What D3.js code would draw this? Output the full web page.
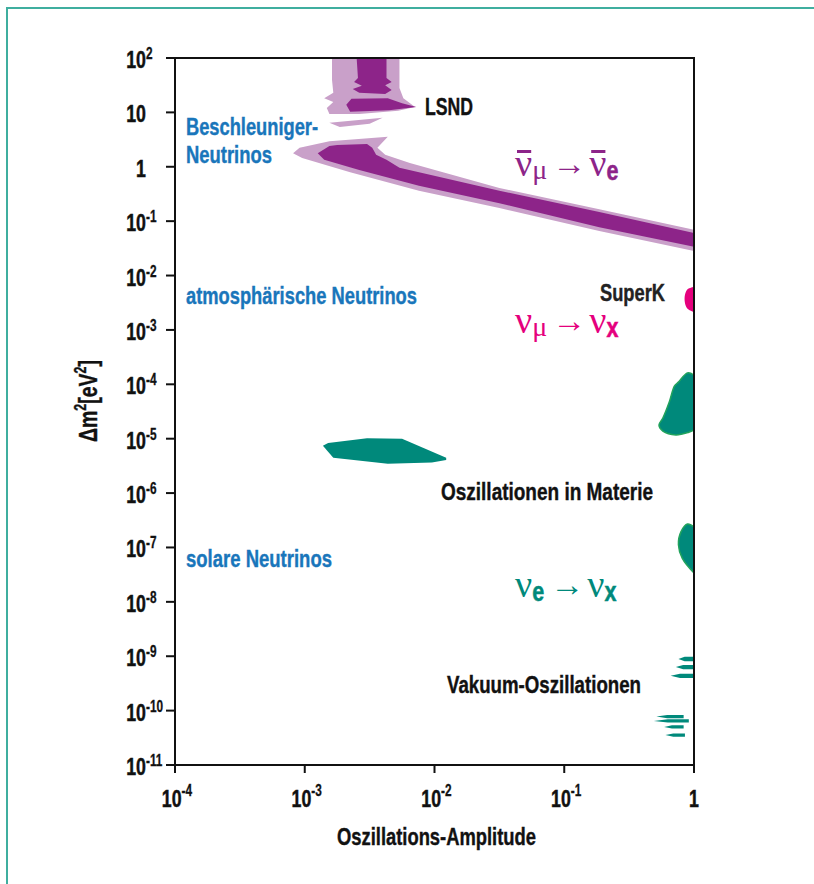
<!DOCTYPE html>
<html>
<head>
<meta charset="utf-8">
<script src="https://cdn.jsdelivr.net/npm/d3@7/dist/d3.min.js"></script>
<style>
body { margin: 0; background: #fff; }
svg text { font-family: 'Liberation Sans', Arial, sans-serif; font-weight: bold; }
</style>
</head>
<body>
<div id="chart"></div>
<script>
// axis ticks
var xTicks = [1e-4, 1e-3, 1e-2, 1e-1, 1];
var xTickLabels = [["10", "-4"], ["10", "-3"], ["10", "-2"], ["10", "-1"], ["1", ""]];
var yTicks = [1e2, 1e1, 1, 1e-1, 1e-2, 1e-3, 1e-4, 1e-5, 1e-6, 1e-7, 1e-8, 1e-9, 1e-10, 1e-11];
var yTickLabels = [["10", "2"], ["10", ""], ["1", ""], ["10", "-1"], ["10", "-2"], ["10", "-3"], ["10", "-4"],
	["10", "-5"], ["10", "-6"], ["10", "-7"], ["10", "-8"], ["10", "-9"], ["10", "-10"], ["10", "-11"]];

// regions, as [log10 amplitude, log10 dm2 / eV^2]
var lsndOuter = [[-2.79, 2], [-2.27, 2], [-2.27, 1.45], [-2.24, 1.26], [-2.15, 1.10], [-2.28, 1.03], [-2.58, 0.97],
	[-2.81, 0.97], [-2.83, 1.08], [-2.78, 1.19], [-2.85, 1.26], [-2.78, 1.36], [-2.79, 1.60]];
var lsndStrip = [[-2.81, 0.81], [-2.40, 0.90], [-2.50, 0.79], [-2.73, 0.73]];
var lsndInnerTop = [[-2.60, 2], [-2.37, 2], [-2.37, 1.63], [-2.33, 1.56], [-2.38, 1.50], [-2.33, 1.41], [-2.38, 1.34],
	[-2.58, 1.36], [-2.63, 1.43], [-2.56, 1.49], [-2.62, 1.56], [-2.59, 1.63]];
var lsndInnerBlob = [[-2.64, 1.25], [-2.36, 1.26], [-2.25, 1.17], [-2.14, 1.10], [-2.35, 1.04], [-2.65, 1.01], [-2.68, 1.14]];
var bandOuter = [[-3.09, 0.25], [-3.04, 0.35], [-2.81, 0.47], [-2.36, 0.55], [-2.44, 0.35], [-2.38, 0.22], [-2.19, 0.07],
	[-1.50, -0.39], [-0.73, -0.78], [0, -1.16], [0, -1.55], [-0.73, -1.18], [-1.50, -0.76], [-2.12, -0.44], [-2.65, -0.10], [-3.02, 0.16]];
var bandInner = [[-2.90, 0.25], [-2.81, 0.38], [-2.75, 0.40], [-2.52, 0.42], [-2.48, 0.35], [-2.45, 0.22], [-2.37, 0.13],
	[-2.27, -0.02], [-1.50, -0.44], [-0.73, -0.83], [0, -1.22], [0, -1.47], [-0.73, -1.11], [-1.50, -0.67], [-2.12, -0.35], [-2.58, -0.06], [-2.85, 0.13]];
var superK = [[0, -2.21], [-0.05, -2.25], [-0.07, -2.36], [-0.07, -2.50], [-0.05, -2.61], [0, -2.67]];
var solarLMA = [[0, -3.83], [-0.05, -3.79], [-0.12, -3.96], [-0.15, -4.03], [-0.19, -4.32], [-0.24, -4.62], [-0.27, -4.75],
	[-0.24, -4.86], [-0.14, -4.93], [-0.04, -4.88], [0, -4.84]];
var solarSMA = [[-2.86, -5.13], [-2.82, -5.08], [-2.52, -4.99], [-2.25, -5.00], [-1.91, -5.35], [-1.91, -5.39],
	[-2.02, -5.44], [-2.36, -5.46], [-2.78, -5.35]];
var solarLOW = [[0, -6.62], [-0.05, -6.57], [-0.10, -6.71], [-0.12, -6.95], [-0.09, -7.20], [0, -7.47]];
// vacuum stripes: [left, right, top, bottom]
var vacuumStripes = [[-0.12, 0, -9.01, -9.09], [-0.14, 0, -9.16, -9.24], [-0.18, 0, -9.32, -9.40],
	[-0.29, -0.08, -10.08, -10.14], [-0.31, -0.04, -10.16, -10.22], [-0.23, -0.08, -10.27, -10.33], [-0.22, -0.07, -10.42, -10.48]];

var purpleDark = "#8d2489", purpleLight = "#c9a0c9", magenta = "#e5007d", teal = "#00897b", tealEdge = "#21a35c", blue = "#1976bb";

var w = 814, h = 884;
var svg = d3.select("#chart").append("svg").attr("width", w).attr("height", h);

// frame of the page
svg.append("path").attr("d", "M7,884V8H814").attr("fill", "none").attr("stroke", "#3fae9f").attr("stroke-width", 2);

var x = d3.scaleLog().domain([1e-4, 1]).range([175, 694]);
var y = d3.scaleLog().domain([1e-11, 1e2]).range([765, 58]);

function px(d){ return x(Math.pow(10, d[0])); }
function py(d){ return y(Math.pow(10, d[1])); }
var line = d3.line().x(px).y(py).curve(d3.curveLinearClosed);
var smooth = d3.line().x(px).y(py).curve(d3.curveCatmullRom);

var plot = svg.append("g");
plot.append("path").attr("d", line(lsndOuter)).attr("fill", purpleLight);
plot.append("path").attr("d", line(lsndStrip)).attr("fill", purpleLight);
plot.append("path").attr("d", line(bandOuter)).attr("fill", purpleLight);
plot.append("path").attr("d", line(lsndInnerTop)).attr("fill", purpleDark);
plot.append("path").attr("d", line(lsndInnerBlob)).attr("fill", purpleDark);
plot.append("path").attr("d", line(bandInner)).attr("fill", purpleDark);
plot.append("path").attr("d", smooth(superK) + "Z").attr("fill", magenta);
plot.append("path").attr("d", smooth(solarLMA) + "Z").attr("fill", teal).attr("stroke", tealEdge).attr("stroke-width", 1.5);
plot.append("path").attr("d", line(solarSMA)).attr("fill", teal);
plot.append("path").attr("d", smooth(solarLOW) + "Z").attr("fill", teal).attr("stroke", tealEdge).attr("stroke-width", 1.5);

plot.selectAll(".stripe")
	.data(vacuumStripes)
	.enter()
	.append("path")
	.attr("class", "stripe")
	.attr("fill", teal)
	.attr("d", function(d){
		var mid = (d[2] + d[3]) / 2;
		var m = d[0] + (d[1] - d[0]) * 0.4;
		return line([[d[0], mid], [m, d[2]], [d[1], d[2]], [d[1], d[3]], [m, d[3]]]);
	});

// narrow text: squeeze horizontally
function narrow(parent, tx, ty, sx, extra){
	return parent.append("g").attr("transform", "translate(" + tx + "," + ty + ")" + (extra || "") + " scale(" + sx + ",1)")
		.append("text").attr("stroke-width", 0.5);
}

// axes
var axisG = svg.append("g");
axisG.append("rect").attr("x", 175).attr("y", 58).attr("width", 519).attr("height", 707)
	.attr("fill", "none").attr("stroke", "#111").attr("stroke-width", 2);

axisG.selectAll(".ytick").data(yTicks).enter().append("line")
	.attr("x1", 166).attr("x2", 175)
	.attr("y1", function(d){ return y(d); }).attr("y2", function(d){ return y(d); })
	.attr("stroke", "#111").attr("stroke-width", 2);
axisG.selectAll(".xtick").data(xTicks).enter().append("line")
	.attr("x1", function(d){ return x(d); }).attr("x2", function(d){ return x(d); })
	.attr("y1", 765).attr("y2", 773)
	.attr("stroke", "#111").attr("stroke-width", 2);

yTicks.forEach(function(t, i){
	var lab = yTickLabels[i];
	narrow(axisG, 146, y(t) + 10, 0.74).attr("text-anchor", "end")
		.attr("font-size", 24).attr("fill", "#111").attr("stroke", "#111").text(lab[0]);
	if(lab[1] !== ""){
		narrow(axisG, 146, y(t) + 1, 0.74)
			.attr("font-size", 16).attr("fill", "#111").attr("stroke", "#111").attr("stroke-width", 0.3).text(lab[1]);
	}
});

xTicks.forEach(function(t, i){
	var lab = xTickLabels[i];
	var tx = narrow(axisG, x(t) + (lab[1] ? 2 : 0), 807, 0.74).attr("text-anchor", "middle")
		.attr("fill", "#111").attr("stroke", "#111");
	tx.append("tspan").attr("font-size", 24).text(lab[0]);
	if(lab[1]) tx.append("tspan").attr("font-size", 16).attr("stroke-width", 0.3).attr("dy", -11).text(lab[1]);
});

svg.append("text").attr("x", 337).attr("y", 845)
	.attr("font-size", 24).attr("fill", "#111").attr("stroke", "#111").attr("stroke-width", 0.4)
	.attr("textLength", 199).attr("lengthAdjust", "spacingAndGlyphs")
	.text("Oszillations-Amplitude");

var yl = narrow(svg, 97, 401, 0.78, " rotate(-90)").attr("text-anchor", "middle")
	.attr("font-size", 25).attr("fill", "#111").attr("stroke", "#111").attr("stroke-width", 0.4);
yl.append("tspan").text("Δm");
yl.append("tspan").attr("font-size", 16).attr("dy", -11).text("2");
yl.append("tspan").attr("dy", 11).text("[eV");
yl.append("tspan").attr("font-size", 16).attr("dy", -11).text("2");
yl.append("tspan").attr("dy", 11).text("]");

// labels
var labels = [
	{t: "LSND", x: 425, y: 115, wd: 48, c: "#111"},
	{t: "Beschleuniger-", x: 186, y: 135, wd: 132, c: blue},
	{t: "Neutrinos", x: 186, y: 163, wd: 86, c: blue},
	{t: "atmosphärische Neutrinos", x: 186, y: 304, wd: 231, c: blue},
	{t: "SuperK", x: 600, y: 301, wd: 65, c: "#222"},
	{t: "Oszillationen in Materie", x: 441, y: 500, wd: 212, c: "#111"},
	{t: "solare Neutrinos", x: 186, y: 567, wd: 146, c: blue},
	{t: "Vakuum-Oszillationen", x: 447, y: 693, wd: 194, c: "#111"}
];
svg.selectAll(".lab").data(labels).enter().append("text")
	.attr("x", function(d){ return d.x; }).attr("y", function(d){ return d.y; })
	.attr("font-size", 24).attr("fill", function(d){ return d.c; })
	.attr("stroke", function(d){ return d.c; }).attr("stroke-width", 0.4)
	.attr("textLength", function(d){ return d.wd; }).attr("lengthAdjust", "spacingAndGlyphs")
	.text(function(d){ return d.t; });

// reaction formulas
function formula(x0, base, color, parts){
	var g = svg.append("g").attr("fill", color);
	var cx = x0;
	parts.forEach(function(p){
		var t = g.append("text").attr("x", cx).attr("y", base + (p.dy || 0))
			.attr("font-size", p.size).text(p.t);
		if(p.serif) t.style("font-family", "'Liberation Serif', 'DejaVu Serif', serif").style("font-weight", "normal");
		else t.attr("stroke", color).attr("stroke-width", 0.5);
		if(p.wd) t.attr("textLength", p.wd).attr("lengthAdjust", "spacingAndGlyphs");
		var wd = p.wd || t.node().getComputedTextLength();
		if(p.bar){
			g.append("rect").attr("x", cx + 2).attr("y", base - 26).attr("width", wd - 3).attr("height", 3);
		}
		cx += wd + (p.gap || 0);
	});
}
formula(515, 176, purpleDark, [
	{t: "ν", size: 38, serif: true, bar: true},
	{t: "μ", size: 28, serif: true, dy: 3, gap: 5},
	{t: "→", size: 34, serif: true, dy: -1, gap: 3},
	{t: "ν", size: 38, serif: true, bar: true},
	{t: "e", size: 27, dy: 4, wd: 12}
]);
formula(515, 333, magenta, [
	{t: "ν", size: 38, serif: true},
	{t: "μ", size: 28, serif: true, dy: 3, gap: 5},
	{t: "→", size: 34, serif: true, dy: -1, gap: 3},
	{t: "ν", size: 38, serif: true},
	{t: "x", size: 27, dy: 4, wd: 12}
]);
formula(515, 597, teal, [
	{t: "ν", size: 38, serif: true},
	{t: "e", size: 27, dy: 4, wd: 12, gap: 6},
	{t: "→", size: 34, serif: true, dy: -1, gap: 3},
	{t: "ν", size: 38, serif: true},
	{t: "x", size: 27, dy: 4, wd: 12}
]);
</script>
</body>
</html>
